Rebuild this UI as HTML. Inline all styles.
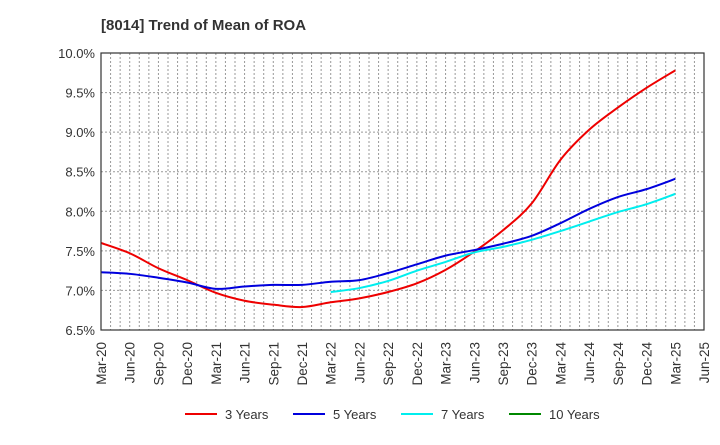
<!DOCTYPE html>
<html><head><meta charset="utf-8"><style>
body{margin:0;background:#fff;font-family:"Liberation Sans",Arial,sans-serif}
svg text{font-family:"Liberation Sans",Arial,sans-serif}
</style></head><body>
<svg id="c" width="720" height="440" xmlns="http://www.w3.org/2000/svg">
<text x="101" y="30" font-size="15" font-weight="bold" fill="#333">[8014]  Trend of Mean of ROA</text>
<g id="grid"></g><g id="series"></g><g id="axes"></g><g id="legend"></g>
</svg>
<script>
const xLabels=["Mar-20","Jun-20","Sep-20","Dec-20","Mar-21","Jun-21","Sep-21","Dec-21","Mar-22","Jun-22","Sep-22","Dec-22","Mar-23","Jun-23","Sep-23","Dec-23","Mar-24","Jun-24","Sep-24","Dec-24","Mar-25","Jun-25"];
const yTicks=[6.5,7.0,7.5,8.0,8.5,9.0,9.5,10.0];
const y3=[7.60,7.47,7.28,7.13,6.97,6.87,6.82,6.79,6.85,6.90,6.98,7.09,7.26,7.49,7.76,8.10,8.65,9.03,9.31,9.56,9.78];
const y5=[7.23,7.21,7.16,7.10,7.02,7.05,7.07,7.07,7.11,7.13,7.22,7.33,7.44,7.51,7.59,7.69,7.85,8.03,8.18,8.28,8.41];
const y7=[null,null,null,null,null,null,null,null,6.98,7.03,7.12,7.25,7.36,7.48,7.55,7.64,7.75,7.87,7.99,8.09,8.22];
const y10=[];
const L=101,R=704,T=53,B=330;
const X=i=>L+(R-L)*i/(xLabels.length-1);
const Y=v=>B-(v-6.5)/(10-6.5)*(B-T);
const NS="http://www.w3.org/2000/svg";
function mk(p,t,a){const e=document.createElementNS(NS,t);for(const k in a)e.setAttribute(k,a[k]);p.appendChild(e);return e;}
const grid=document.getElementById('grid'),axes=document.getElementById('axes'),ser=document.getElementById('series'),leg=document.getElementById('legend');
const nM=(xLabels.length-1)*3;
for(let m=1;m<nM;m++){const x=L+(R-L)*m/nM;const l=mk(grid,'line',{x1:x,x2:x,y1:T,y2:B,stroke:'#999','stroke-dasharray':'2,2','stroke-width':1});

}
yTicks.forEach(v=>{const y=Y(v);if(v>6.5&&v<10){const l=mk(grid,'line',{x1:L,x2:R,y1:y,y2:y,stroke:'#999','stroke-dasharray':'2,2'});

}
const t=mk(axes,'text',{x:L-6,y:y+5,'text-anchor':'end','font-size':13,fill:'#333'});t.textContent=v.toFixed(1)+'%';

});
const fr=mk(axes,'rect',{x:L,y:T,width:R-L,height:B-T,fill:'none',stroke:'#333','stroke-width':1.2});


xLabels.forEach((s,i)=>{const x=X(i);const t=mk(axes,'text',{x:0,y:0,'text-anchor':'end','font-size':13.5,fill:'#333',transform:`translate(${x+5},${B+12}) rotate(-90)`});t.textContent=s;

});
function path(arr){const p=[];arr.forEach((v,i)=>{if(v!=null)p.push([X(i),Y(v)]);});if(p.length<2)return '';
let d=`M${p[0][0]},${p[0][1]}`;for(let i=0;i<p.length-1;i++){const p0=p[i-1]||p[i],p1=p[i],p2=p[i+1],p3=p[i+2]||p2;
d+=` C${p1[0]+(p2[0]-p0[0])/6},${p1[1]+(p2[1]-p0[1])/6} ${p2[0]-(p3[0]-p1[0])/6},${p2[1]-(p3[1]-p1[1])/6} ${p2[0]},${p2[1]}`;}return d;}
const S=[[y3,'#e00','3 Years','line-3-years'],[y5,'#00d','5 Years','line-5-years'],[y7,'#0ee','7 Years','line-7-years'],[y10,'#080','10 Years','line-10-years']];
S.forEach(([a,c,n,nm],k)=>{const d=path(a);if(d){const p=mk(ser,'path',{d:d,fill:'none',stroke:c,'stroke-width':2});

}
const lx=[185,293,401,509][k];const g=mk(leg,'g',{});


mk(g,'line',{x1:lx,x2:lx+32,y1:414,y2:414,stroke:c,'stroke-width':2});
const t=mk(g,'text',{x:lx+40,y:419,'font-size':13,fill:'#333'});t.textContent=n;});
</script>
</body></html>
